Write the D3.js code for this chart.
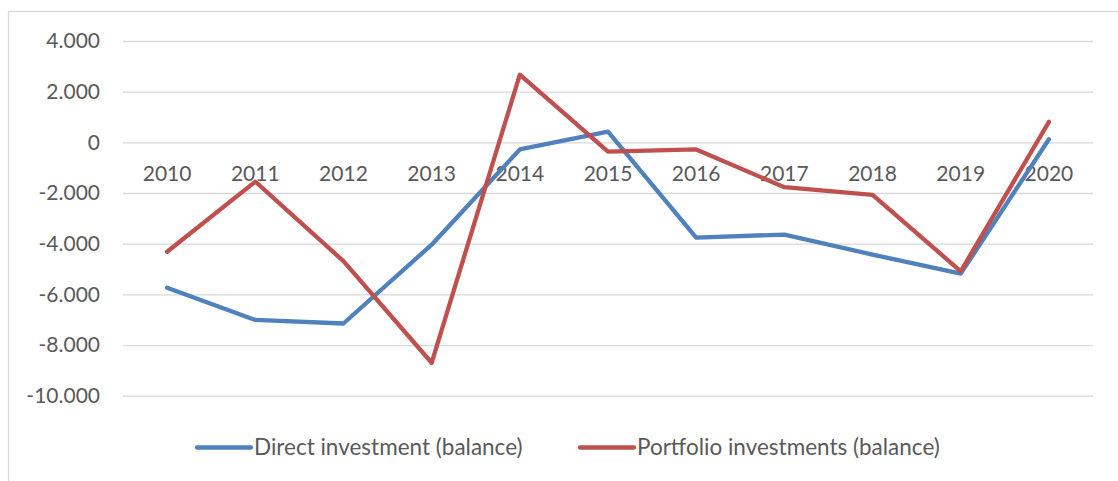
<!DOCTYPE html>
<html lang="en">
<head>
  <meta charset="UTF-8">
  <title>investment-balance</title>
  <script src="https://cdn.jsdelivr.net/npm/d3@7"></script>
  <style>
    body { margin: 0; background: #fff; }
    text { font-family: Lato, "Open Sans", sans-serif; fill: #595959; }
  </style>
</head>
<body>
<script>
let years = ['2010', '2011', '2012', '2013', '2014', '2015', '2016', '2017', '2018', '2019', '2020'];
let direct = [-5740, -7010, -7150, -4040, -280, 420, -3760, -3640, -4430, -5180, 120];
let portfolio = [-4320, -1550, -4690, -8700, 2670, -370, -280, -1770, -2070, -5090, 810];
let yTicks = [4000, 2000, 0, -2000, -4000, -6000, -8000, -10000];
let seriesNames = ['Direct investment (balance)', 'Portfolio investments (balance)'];
let colors = ['#4F81BD', '#C0504D'];

let width = 1118;
let height = 481;
let plotLeft = 123, plotRight = 1093, plotTop = 41, plotBottom = 395.7;

let svg = d3.select('body')
  .append('svg')
  .attr('width', width)
  .attr('height', height);

// chart frame (only top and left edges are visible in the crop)
svg.append('rect')
  .attr('x', 8.5)
  .attr('y', 11.5)
  .attr('width', 1200)
  .attr('height', 600)
  .attr('fill', 'none')
  .attr('stroke', '#D9D9D9')
  .attr('stroke-width', 1.3);

let x = d3.scaleBand()
  .domain(years)
  .range([plotLeft, plotRight]);

let y = d3.scaleLinear()
  .domain([-10000, 4000])
  .range([plotBottom, plotTop]);

function fmt(d) {
  return d3.format(',')(d).replace(/,/g, '.').replace('−', '-');
}

let yAxis = d3.axisLeft(y)
  .tickValues(yTicks)
  .tickSize(plotLeft - plotRight)
  .tickPadding(23)
  .tickFormat(fmt);

svg.append('g')
  .attr('class', 'y-axis')
  .attr('transform', 'translate(' + plotLeft + ',0)')
  .call(yAxis)
  .call(g => g.select('.domain').remove())
  .call(g => g.selectAll('.tick line').attr('stroke', '#D9D9D9').attr('stroke-width', 1.3))
  .call(g => g.selectAll('.tick text').attr('font-size', 21).style('fill', '#595959'));

let xAxis = d3.axisBottom(x)
  .tickSize(0)
  .tickPadding(24);

svg.append('g')
  .attr('class', 'x-axis')
  .attr('transform', 'translate(0,' + y(0) + ')')
  .call(xAxis)
  .call(g => g.select('.domain').remove())
  .call(g => g.selectAll('.tick text').attr('font-size', 21).style('fill', '#595959'));

let line = d3.line()
  .x((d, i) => x(years[i]) + x.bandwidth() / 2)
  .y(d => y(d));

[direct, portfolio].forEach((s, i) => {
  svg.append('path')
    .datum(s)
    .attr('d', line)
    .attr('fill', 'none')
    .attr('stroke', colors[i])
    .attr('stroke-width', 4.3)
    .attr('stroke-linejoin', 'round')
    .attr('stroke-linecap', 'round');
});

// legend
let legendX = [197, 580];
let legend = svg.append('g').attr('class', 'legend');
seriesNames.forEach((name, i) => {
  legend.append('line')
    .attr('x1', legendX[i])
    .attr('x2', legendX[i] + 54)
    .attr('y1', 447.5)
    .attr('y2', 447.5)
    .attr('stroke', colors[i])
    .attr('stroke-width', 4.3)
    .attr('stroke-linecap', 'round');
  legend.append('text')
    .attr('x', legendX[i] + 57)
    .attr('y', 447.5)
    .attr('dy', '0.35em')
    .attr('font-size', 22.5)
    .text(name);
});
</script>
</body>
</html>
